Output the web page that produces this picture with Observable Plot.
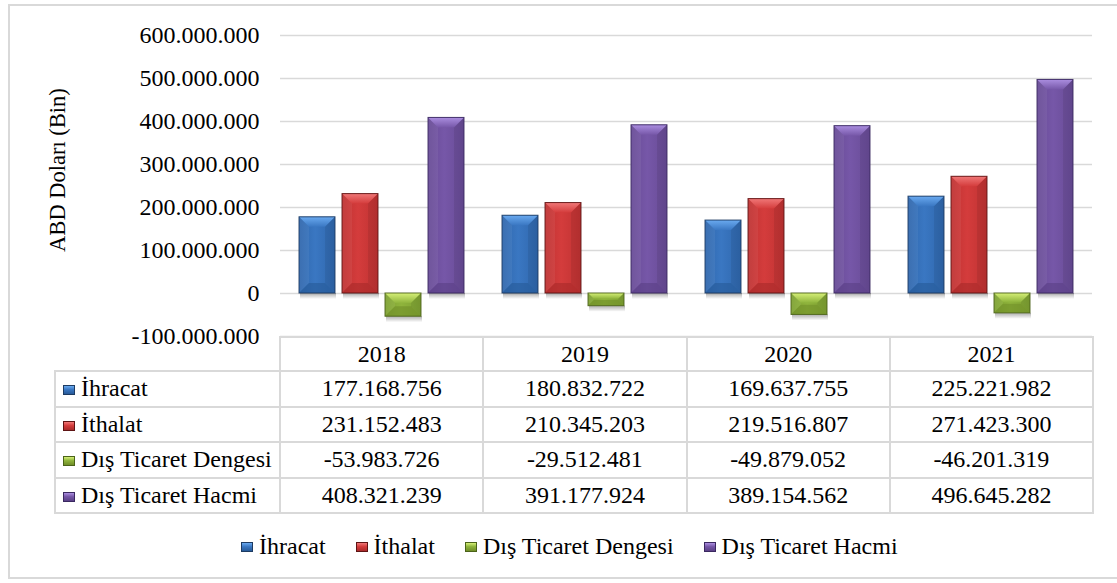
<!DOCTYPE html>
<html>
<head>
<meta charset="utf-8">
<script src="https://cdn.jsdelivr.net/npm/d3@7"></script>
<script src="https://cdn.jsdelivr.net/npm/@observablehq/plot@0.6"></script>
<style>
.ser { font-family: 'Liberation Serif', serif; }
</style>
</head>
<body style="margin:0">
<div id="wrap" class="ser" style="position:relative;width:1117px;height:583px;overflow:hidden;color:#000;background:#fff">
  <div style="position:absolute;left:8px;top:4px;width:1130px;height:575px;border:2px solid #d9d9d9;box-sizing:border-box"></div>
  <div id="ytitle" class="ser" style="position:absolute;width:220px;height:30px;line-height:30px;text-align:center;left:-52px;top:155px;transform:rotate(-90deg);font-size:22.5px;white-space:nowrap"></div>
  <div id="chart" style="position:absolute;left:0;top:0"></div>
  <div id="tblwrap" style="position:absolute;left:54px;top:336px"></div>
  <div id="legend" class="ser" style="position:absolute;left:241px;top:533px;display:flex;align-items:center;gap:30px;font-size:24px;white-space:nowrap"></div>
</div>
<script>
// ---- data ----
const years = ["2018", "2019", "2020", "2021"];
const seriesNames = ["İhracat", "İthalat", "Dış Ticaret Dengesi", "Dış Ticaret Hacmi"];
const ihracat = [177168756, 180832722, 169637755, 225221982];
const ithalat = [231152483, 210345203, 219516807, 271423300];
const disTicaretDengesi = [-53983726, -29512481, -49879052, -46201319];
const disTicaretHacmi = [408321239, 391177924, 389154562, 496645282];
const yTicks = [-100000000, 0, 100000000, 200000000, 300000000, 400000000, 500000000, 600000000];
const yTitle = "ABD Doları (Bin)";

const seriesValues = [ihracat, ithalat, disTicaretDengesi, disTicaretHacmi];
const FONT = "'Liberation Serif', serif";

// ---- styling ----
const palette = [
  {id: "Blue",   base: "#3a77c2", side: "#2f67ad", light: "#6aaaf0", dark: "#275a98", edge: "#1d3b62"},
  {id: "Red",    base: "#d43c3c", side: "#bf3232", light: "#f07878", dark: "#a82a2a", edge: "#5e1414"},
  {id: "Green",  base: "#8fb43c", side: "#7ea132", light: "#d6f078", dark: "#6f8d28", edge: "#4b6319"},
  {id: "Purple", base: "#7657a8", side: "#684b96", light: "#ab8ee0", dark: "#5a4086", edge: "#3a2860"}
];
const fills = palette.map(p => `url(#g${p.id})`);

const fmt = d3.formatLocale({decimal: ",", thousands: ".", grouping: [3], currency: ["", ""], minus: "-"}).format(",d");

const rows = [];
years.forEach((year, i) => {
  seriesNames.forEach((s, k) => rows.push({year, series: s, value: seriesValues[k][i]}));
});

const chart = Plot.plot({
  width: 1117,
  height: 340,
  marginLeft: 279,
  marginRight: 25,
  marginTop: 35,
  marginBottom: 4,
  style: {fontFamily: FONT, fontSize: "24px", color: "#000", background: "transparent", overflow: "visible"},
  fx: {domain: years, padding: 0, axis: null},
  x: {domain: seriesNames, paddingInner: 0.159, paddingOuter: 0.389, axis: null},
  y: {domain: [yTicks[0], yTicks[yTicks.length - 1]], ticks: yTicks, tickFormat: fmt,
      tickSize: 0, tickPadding: 21, label: null},
  color: {type: "ordinal", domain: seriesNames, range: fills},
  marks: [
    Plot.gridY(yTicks, {stroke: "#d9d9d9", strokeOpacity: 1, strokeWidth: 1.6}),
    Plot.barY(rows, {fx: "year", x: "series", y: "value", fill: "series"})
  ]
});
document.getElementById("chart").appendChild(chart);

// gradients inside the chart svg
const NS = "http://www.w3.org/2000/svg";
const defs = document.createElementNS(NS, "defs");
defs.innerHTML = palette.map(p => `
  <linearGradient id="g${p.id}" x1="0" x2="1" y1="0" y2="0">
    <stop offset="0" stop-color="${p.side}"/>
    <stop offset="0.45" stop-color="${p.base}"/>
    <stop offset="1" stop-color="${p.side}"/>
  </linearGradient>
  <linearGradient id="t${p.id}" x1="0" x2="0" y1="0" y2="1">
    <stop offset="0" stop-color="${p.light}"/>
    <stop offset="1" stop-color="${p.base}"/>
  </linearGradient>`).join("") + `
  <linearGradient id="shade" x1="0" x2="0" y1="0" y2="1">
    <stop offset="0" stop-color="#000" stop-opacity="0.32"/>
    <stop offset="1" stop-color="#000" stop-opacity="0"/>
  </linearGradient>`;
chart.insertBefore(defs, chart.firstChild);

// bevel decoration on each bar drawn by Plot
chart.querySelectorAll('g[aria-label="bar"] rect').forEach(r => {
  const k = fills.indexOf(r.getAttribute("fill"));
  if (k < 0) return;
  const p = palette[k];
  const x = +r.getAttribute("x"), y = +r.getAttribute("y");
  const w = +r.getAttribute("width"), h = +r.getAttribute("height");
  const b = Math.min(10, h / 2.2, w / 2.2);
  const parent = r.parentNode;
  const sh = document.createElementNS(NS, "rect");
  sh.setAttribute("x", x + 1); sh.setAttribute("y", y + h); sh.setAttribute("width", w);
  sh.setAttribute("height", 6); sh.setAttribute("fill", "url(#shade)");
  parent.insertBefore(sh, r);
  const poly = (pts, fill, op) => {
    const e = document.createElementNS(NS, "polygon");
    e.setAttribute("points", pts.map(d => d.join(",")).join(" "));
    e.setAttribute("fill", fill);
    if (op != null) e.setAttribute("fill-opacity", op);
    parent.insertBefore(e, r.nextSibling);
    return e;
  };
  poly([[x, y + h], [x + w, y + h], [x + w - b, y + h - b], [x + b, y + h - b]], p.dark, 0.6);
  poly([[x, y], [x + b, y + b], [x + b, y + h - b], [x, y + h]], "#fff", 0.06);
  poly([[x + w, y], [x + w - b, y + b], [x + w - b, y + h - b], [x + w, y + h]], "#000", 0.07);
  poly([[x, y], [x + w, y], [x + w - b, y + b], [x + b, y + b]], `url(#t${p.id})`);
  const o = document.createElementNS(NS, "rect");
  ["x", "y", "width", "height"].forEach(a => o.setAttribute(a, r.getAttribute(a)));
  o.setAttribute("fill", "none");
  o.setAttribute("stroke", p.edge);
  o.setAttribute("stroke-width", "1");
  o.setAttribute("stroke-opacity", "0.9");
  parent.appendChild(o);
});

document.getElementById("ytitle").textContent = yTitle;

// swatch helper
const swatch = k => {
  const p = palette[k];
  return `<span style="display:inline-block;width:12px;height:10px;box-sizing:border-box;margin-right:6px;vertical-align:1px;border:1px solid ${p.edge};background:linear-gradient(to bottom, ${p.light} 0%, ${p.base} 45%, ${p.dark} 100%)"></span>`;
};

// data table
const colW = (1092 - 279) / years.length;
const cell = (content, extra = "") =>
  `<td class="ser" style="border:2px solid #d9d9d9;padding:0;text-align:center;white-space:nowrap;${extra}">${content}</td>`;
let html = `<table class="ser" style="border-collapse:collapse;table-layout:fixed;font-size:24px;width:${225 + colW * years.length}px">`;
html += `<colgroup><col style="width:225px">${years.map(() => `<col style="width:${colW}px">`).join("")}</colgroup>`;
html += `<tr style="height:34px"><td style="border:none"></td>${years.map(y => cell(y, "height:32px;line-height:32px")).join("")}</tr>`;
seriesNames.forEach((s, k) => {
  html += `<tr>${cell(swatch(k) + s, "text-align:left;padding-left:7px;height:33.5px;line-height:33.5px")}${seriesValues[k].map(v => cell(fmt(v), "height:33.5px;line-height:33.5px")).join("")}</tr>`;
});
html += `</table>`;
document.getElementById("tblwrap").innerHTML = html;

// legend
document.getElementById("legend").innerHTML = seriesNames.map((s, k) =>
  `<span style="display:flex;align-items:center">${swatch(k)}<span class="ser">${s}</span></span>`).join("");
</script>
</body>
</html>
